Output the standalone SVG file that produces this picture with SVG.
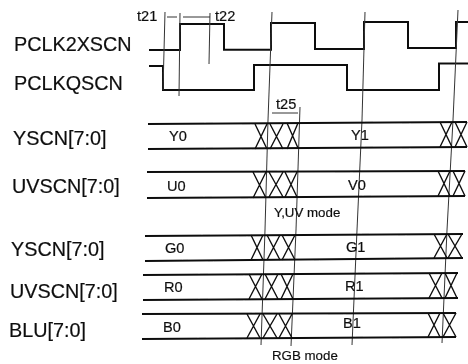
<svg xmlns="http://www.w3.org/2000/svg" width="468" height="364" viewBox="0 0 468 364">
<style>
text{font-family:"Liberation Sans",Arial,sans-serif;fill:#111;stroke:#111;stroke-width:.2}
.n{font-size:19.8px}
.s{font-size:14.6px}
.m{font-size:13.3px}
path,line{fill:none;stroke:#111;stroke-linejoin:miter}
.w{stroke-width:2}
.b{stroke-width:1.8}
.x{stroke-width:1.4}
.v{stroke-width:1;stroke:#333}
</style>
<defs><filter id="soft" x="-2%" y="-2%" width="104%" height="104%"><feGaussianBlur stdDeviation="0.35"/></filter></defs>
<rect width="468" height="364" fill="#fff"/>
<g filter="url(#soft)">
<g id="labels">
<text class="n" x="14" y="51">PCLK2XSCN</text>
<text class="n" x="14" y="90">PCLKQSCN</text>
<text class="n" x="13" y="145">YSCN[7:0]</text>
<text class="n" x="12" y="193">UVSCN[7:0]</text>
<text class="n" x="11" y="256">YSCN[7:0]</text>
<text class="n" x="10" y="298">UVSCN[7:0]</text>
<text class="n" x="9" y="337">BLU[7:0]</text>
</g>
<g id="pclk2xscn"><path class="w" d="M149 50H180V24H224V49.7H271V23H315V49H364V22H408V48H456V22H468"/></g>
<g id="pclkqscn"><path class="w" d="M149 66H163V90H254V65H347V90H439V63.5H468"/></g>
<g id="timing">
<path class="v" d="M165 12L163 90"/>
<path class="v" d="M180 13L179 96"/>
<path class="v" d="M210 13L209 64"/>
<path class="v" d="M272 12L268 120L265 230L261 345"/>
<path class="v" d="M300 107L296 230L291 346"/>
<path class="v" d="M365 12L362 120L357 230L352 345"/>
<path class="v" d="M458 10L453 120L447 230L442 343"/>
<path class="v" d="M167 17H177M183 17H210"/>
<path class="v" d="M272 113H298"/>
<text class="s" x="137" y="21">t21</text>
<text class="s" x="215" y="21">t22</text>
<text class="s" x="276" y="109">t25</text>
</g>
<g id="yscn1">
<path class="b" d="M148 124L467 122M148 149L467 147"/>
<path class="x" d="M255 149L267 124M255 124L267 149M270 149L283 124M270 124L283 149M287 149L298 123M287 123L298 148M440 147L452 122M440 122L452 147M455 147L467 122M455 122L467 147"/>
<text class="s" x="169" y="141">Y0</text><text class="s" x="351" y="140">Y1</text>
</g>
<g id="uvscn1">
<path class="b" d="M147 172L465 171M147 198L465 196"/>
<path class="x" d="M253 198L266 172M253 172L266 198M269 197L283 172M269 172L283 197M285 197L297 172M285 172L297 197M438 196L450 171M438 171L450 196M453 196L465 171M453 171L465 196"/>
<text class="s" x="167" y="191">U0</text><text class="s" x="348" y="190">V0</text>
<text class="m" x="274" y="217">Y,UV mode</text>
</g>
<g id="yscn2">
<path class="b" d="M145 236L463 234M145 261L463 258"/>
<path class="x" d="M251 260L263 235M251 235L263 260M267 260L280 235M267 235L280 260M282 260L295 235M282 235L295 260M434 258L447 234M434 234L447 258M448 258L462 234M448 234L462 258"/>
<text class="s" x="165" y="253">G0</text><text class="s" x="346" y="252">G1</text>
</g>
<g id="uvscn2">
<path class="b" d="M143 275L458 273M143 300L458 298"/>
<path class="x" d="M249 299L262 274M249 274L262 299M265 299L278 274M265 274L278 299M281 299L293 274M281 274L293 299M429 298L442 273M429 273L442 298M445 298L457 273M445 273L457 298"/>
<text class="s" x="164" y="292">R0</text><text class="s" x="345" y="291">R1</text>
</g>
<g id="blu">
<path class="b" d="M142 314L456 313M142 339L456 337"/>
<path class="x" d="M247 338L260 314M247 314L260 338M263 338L277 314M263 314L277 338M279 338L292 314M279 314L292 338M428 337L440 313M428 313L440 337M443 337L456 313M443 313L456 337"/>
<text class="s" x="163" y="332">B0</text><text class="s" x="343" y="328">B1</text>
<text class="m" x="272" y="360">RGB mode</text>
</g>
</g>
</svg>
